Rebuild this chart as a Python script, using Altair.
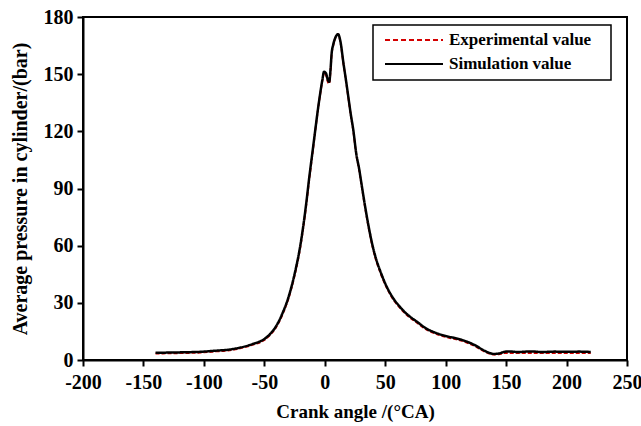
import altair as alt
import pandas as pd

angles = [-140, -120, -100, -90, -80, -70, -60, -50, -45, -40,
          -35, -30, -25, -20, -17, -15, -13, -10, -8, -6,
          -4, -2, -0.6, 1, 2.5, 3.7, 4.7, 5.7, 7, 9,
          11, 13, 15.4, 17.5, 19.5, 21.5, 23.6, 26, 28.6, 30,
          33, 36, 39, 42, 46, 51, 56, 62, 69, 76,
          84, 92, 100, 109, 115, 120, 125, 130, 135, 140,
          144, 148, 152, 160, 170, 180, 190, 200, 210, 220]

p_sim = [3.8, 4.0, 4.4, 4.9, 5.4, 6.5, 8.3, 11, 13.8, 18,
         24.5, 33, 45, 61, 74, 84, 95, 110, 120, 130,
         139, 147, 151.3, 150.5, 147, 146, 152, 161, 165.5, 169.5,
         171, 167, 156, 147, 138, 129, 120.7, 108.5, 99.7, 94,
         82, 71, 61.5, 54, 46.5, 38.8, 33, 28, 23.5, 20.2,
         16.5, 14.2, 12.6, 11.3, 10.2, 9, 7.5, 5.6, 4.0, 3.2,
         3.4, 4.2, 4.5, 4.2, 4.5, 4.2, 4.4, 4.3, 4.4, 4.2]

p_exp = [3.4, 3.6, 4.0, 4.5, 5.0, 6.1, 7.9, 10.5, 13.3, 17.4,
         23.9, 32.3, 44.2, 60, 73, 83, 94, 109, 119.5, 129.5,
         138.5, 146.5, 150.8, 149.5, 146, 145, 151, 160.5, 165, 169.5,
         171, 166.5, 155.5, 146.5, 137.5, 128.5, 120, 108, 99, 93.3,
         81.3, 70.3, 60.8, 53.3, 45.8, 38.2, 32.4, 27.5, 23, 19.7,
         16, 13.7, 12.1, 10.8, 9.7, 8.5, 7, 5.1, 3.6, 2.8,
         3.0, 3.6, 3.7, 3.6, 3.7, 3.6, 3.7, 3.6, 3.7, 3.6]

series_names = ["Experimental value", "Simulation value"]
series_colors = ["#d40000", "#000000"]

df = pd.concat([
    pd.DataFrame({"angle": angles, "pressure": p_exp, "series": series_names[0], "order": 0}),
    pd.DataFrame({"angle": angles, "pressure": p_sim, "series": series_names[1], "order": 1}),
])

font = "Liberation Serif"
neg_expr = "datum.value < 0 ? '-' + abs(datum.value) : '' + datum.value"

lines = alt.Chart(df).mark_line(interpolate="monotone").encode(
    x=alt.X("angle:Q", scale=alt.Scale(domain=[-200, 250], nice=False),
            axis=alt.Axis(values=list(range(-200, 251, 50)), title="Crank angle /(°CA)",
                          labelExpr=neg_expr, labelFlush=False, labelOverlap=False,
                          labelFontWeight="bold", labelFont=font, labelFontSize=20,
                          titleFontSize=19)),
    y=alt.Y("pressure:Q", scale=alt.Scale(domain=[0, 180], nice=False),
            axis=alt.Axis(values=list(range(0, 181, 30)), title="Average pressure in cylinder/(bar)",
                          labelFlush=False, labelOverlap=False,
                          labelFontWeight="bold", labelFont=font, labelFontSize=20,
                          titleFontSize=20)),
    color=alt.Color("series:N", scale=alt.Scale(domain=series_names, range=series_colors), legend=None),
    strokeDash=alt.StrokeDash("series:N", scale=alt.Scale(domain=series_names, range=[[4, 2], [1, 0]]), legend=None),
    strokeWidth=alt.StrokeWidth("series:N", scale=alt.Scale(domain=series_names, range=[1.9, 2.5]), legend=None),
    order=alt.Order("order:Q"),
    detail="series:N",
)

base = alt.Chart(pd.DataFrame({"k": [0]}))

legend_box = base.mark_rect(fill="white", stroke="black", strokeWidth=1.5).encode(
    x=alt.value(290), x2=alt.value(528), y=alt.value(8), y2=alt.value(63))

leg_exp_line = base.mark_rule(color=series_colors[0], strokeWidth=1.9, strokeDash=[5, 3]).encode(
    x=alt.value(302), x2=alt.value(360), y=alt.value(23))
leg_sim_line = base.mark_rule(color=series_colors[1], strokeWidth=2.2).encode(
    x=alt.value(302), x2=alt.value(360), y=alt.value(47))

leg_exp_text = base.mark_text(text=series_names[0], align="left", baseline="middle", font=font,
                              fontSize=17, fontWeight="bold", color="black").encode(
    x=alt.value(366), y=alt.value(23))
leg_sim_text = base.mark_text(text=series_names[1], align="left", baseline="middle", font=font,
                              fontSize=17, fontWeight="bold", color="black").encode(
    x=alt.value(366), y=alt.value(47))

chart = alt.layer(lines, legend_box, leg_exp_line, leg_sim_line, leg_exp_text, leg_sim_text).properties(
    width=544, height=343,
    padding={"left": 83, "top": 17, "right": 14, "bottom": 66},
    autosize=alt.AutoSizeParams(type="none"),
).configure_view(
    stroke="black", strokeWidth=2
).configure_axis(
    grid=False, domainColor="black", domainWidth=2, tickColor="black", tickWidth=2, tickSize=6,
    labelFont=font, labelFontWeight="bold", labelColor="black", labelPadding=4,
    titleFont=font, titleFontWeight="bold", titleColor="black",
).configure_axisX(titlePadding=10, labelPadding=6).configure_axisY(titlePadding=13)

chart.save("out.html", embed_options={"renderer": "svg", "actions": False})
